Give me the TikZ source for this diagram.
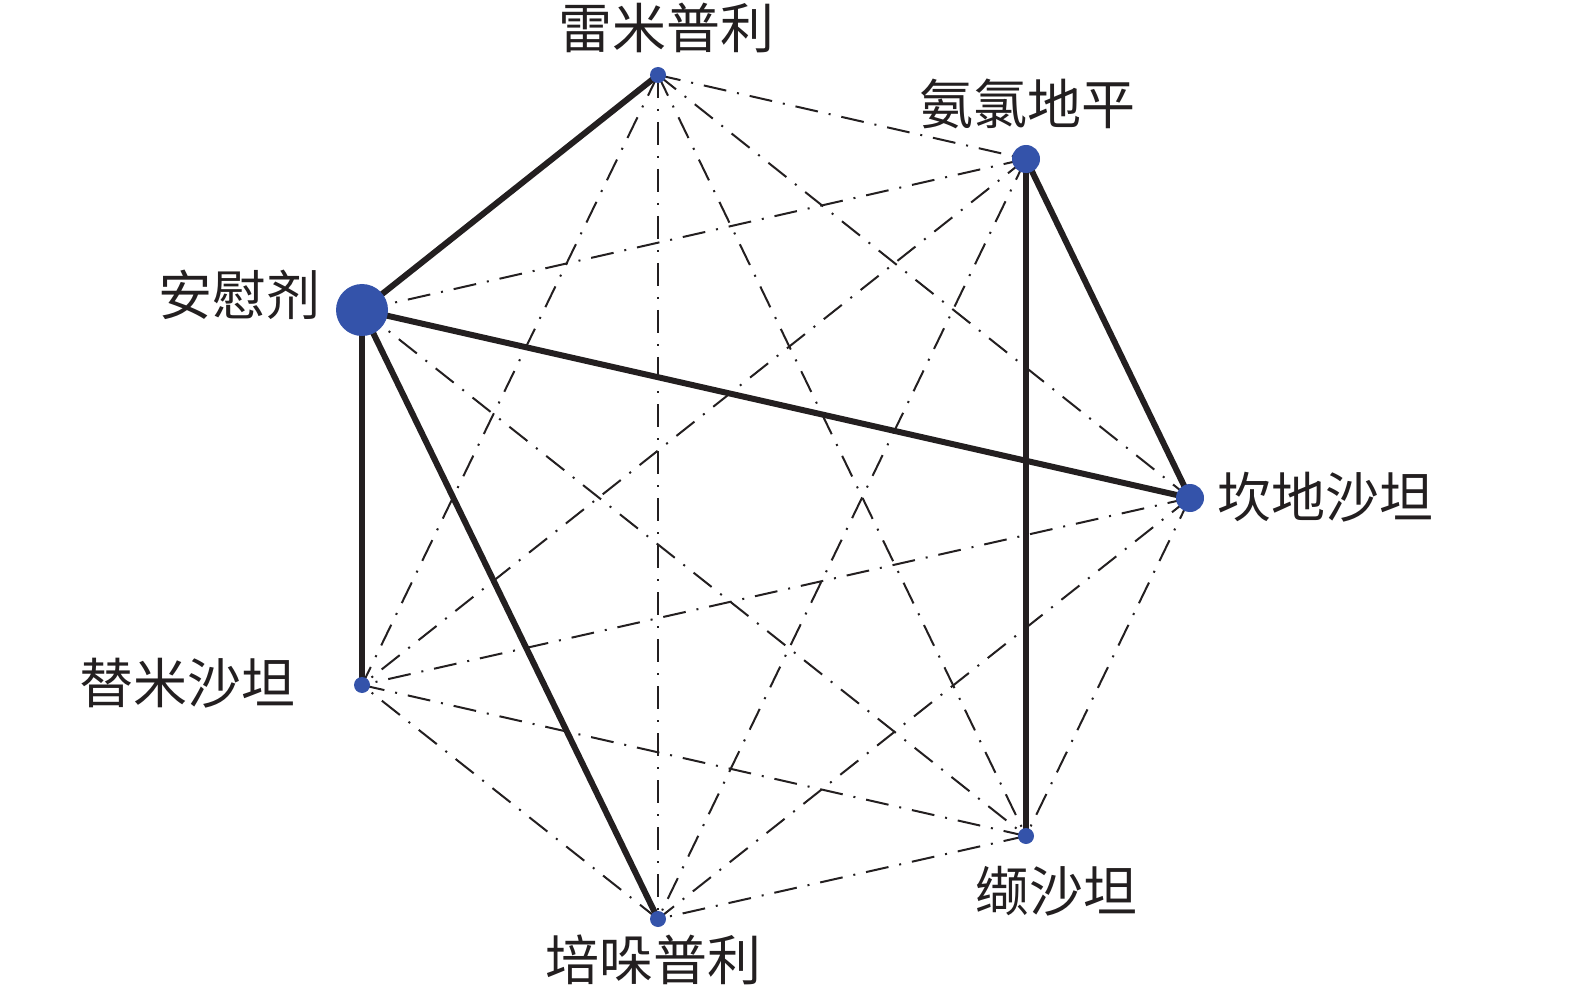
\documentclass[tikz,border=0pt]{standalone}
\usepackage{fontspec}
\newfontfamily\cjk{Noto Sans CJK SC}
\definecolor{dotblue}{RGB}{52,83,170}
\definecolor{lineblack}{RGB}{35,31,32}
\begin{document}
\begin{tikzpicture}[x=0.5pt,y=-0.5pt,
  thinedge/.style={draw=lineblack, line width=1pt, dash pattern=on 11.5pt off 5.5pt on 1pt off 5.5pt},
  thickedge/.style={draw=lineblack, line width=3pt},
  dot/.style={circle, fill=dotblue, inner sep=0pt},
  lab/.style={font=\cjk\fontsize{27}{32}\selectfont, inner sep=0pt, text=lineblack}]
\useasboundingbox (0,0) rectangle (1575,1000);
% node centres
\coordinate (A) at (362,310);
\coordinate (R) at (658,75);
\coordinate (L) at (1026,159);
\coordinate (C) at (1190,498);
\coordinate (V) at (1026,836);
\coordinate (P) at (658,919);
\coordinate (T) at (362,685);
% thin comparisons
\foreach \a/\b in {A/L,A/V,R/L,R/C,R/V,R/P,R/T,L/P,L/T,C/V,C/P,C/T,V/P,V/T,P/T}
  \draw[thinedge] (\a) -- (\b);
% thick comparisons
\foreach \a/\b in {A/R,A/C,A/T,A/P,L/C,L/V}
  \draw[thickedge] (\a) -- (\b);
% dots
\node[dot, minimum size=26pt] (Ad) at (A) {};
\node[dot, minimum size=8pt] (Rd) at (R) {};
\node[dot, minimum size=14pt] (Ld) at (L) {};
\node[dot, minimum size=14pt] (Cd) at (C) {};
\node[dot, minimum size=8pt] (Vd) at (V) {};
\node[dot, minimum size=8pt] (Pd) at (P) {};
\node[dot, minimum size=8pt] (Td) at (T) {};
% labels
\node[lab] (Al) at (239,295) {安慰剂};
\node[lab] (Rl) at (666,28) {雷米普利};
\node[lab] (Ll) at (1027,104) {氨氯地平};
\node[lab] (Cl) at (1325,497) {坎地沙坦};
\node[lab] (Vl) at (1056,891) {缬沙坦};
\node[lab] (Pl) at (653,960) {培哚普利};
\node[lab] (Tl) at (187,683) {替米沙坦};
\end{tikzpicture}
\end{document}
